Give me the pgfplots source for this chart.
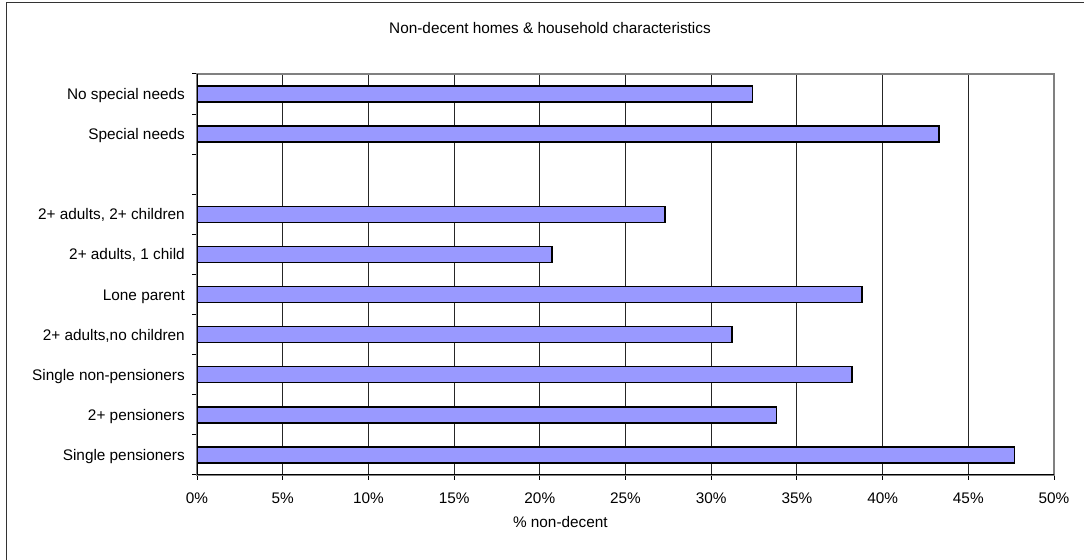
\documentclass[border=0pt]{standalone}
\usepackage{pgfplots}
\pgfplotsset{compat=1.18}
\usepackage{fontspec}
\setmainfont{Liberation Sans}
\definecolor{barblue}{HTML}{9999FF}
\begin{document}
\fontsize{15.4}{18}\selectfont
\begin{tikzpicture}[x=1bp,y=1bp]
\useasboundingbox (0,0) rectangle (1084,560);
\draw[line width=1.5bp, black!80] (6.5,-10) -- (6.5,557.5) -- (1100,557.5);
\node[anchor=base, inner sep=0pt] at (550,526.5) {Non-decent homes \& household characteristics};
\begin{axis}[
  at={(197bp,85bp)}, anchor=south west,
  scale only axis, width=857bp, height=401bp,
  xbar, bar width=16bp,
  xmin=0, xmax=50, ymin=0.5, ymax=10.5,
  xtick={0,5,...,50},
  xticklabel={\pgfmathprintnumber[assume math mode=true]{\tick}\%},
  ytick={0.5,1.5,2.5,3.5,4.5,5.5,6.5,7.5,8.5,9.5,10.5},
  y tick label as interval,
  yticklabels={Single pensioners,2+ pensioners,Single non-pensioners,{2+ adults,no children},Lone parent,{2+ adults, 1 child},{2+ adults, 2+ children},{},Special needs,No special needs},
  tick align=outside, xtick pos=left, ytick pos=left,
  major tick length=5bp,
  tick style={black, line width=1bp},
  xmajorgrids, grid style={black!85, line width=0.9bp},
  axis line style={draw=gray, line width=2bp},
  xticklabel style={anchor=base, inner sep=0pt, yshift=-23.5bp},
  yticklabel style={anchor=base east, inner sep=0pt, xshift=-7bp, yshift=-5.5bp},
  xlabel={\% non-decent},
  xlabel style={at={(axis cs:21.2,0.5)}, anchor=base, inner sep=0pt, yshift=-52.5bp},
]
\addplot[fill=barblue, draw=black, line width=1.5bp] coordinates {
(47.7,1) (33.8,2) (38.2,3) (31.2,4) (38.8,5) (20.7,6) (27.3,7) (43.3,9) (32.4,10)
};
\draw[black, line width=1.3bp] (rel axis cs:0,1) -- (rel axis cs:0,0) -- (rel axis cs:1,0);
\end{axis}
\end{tikzpicture}
\end{document}
